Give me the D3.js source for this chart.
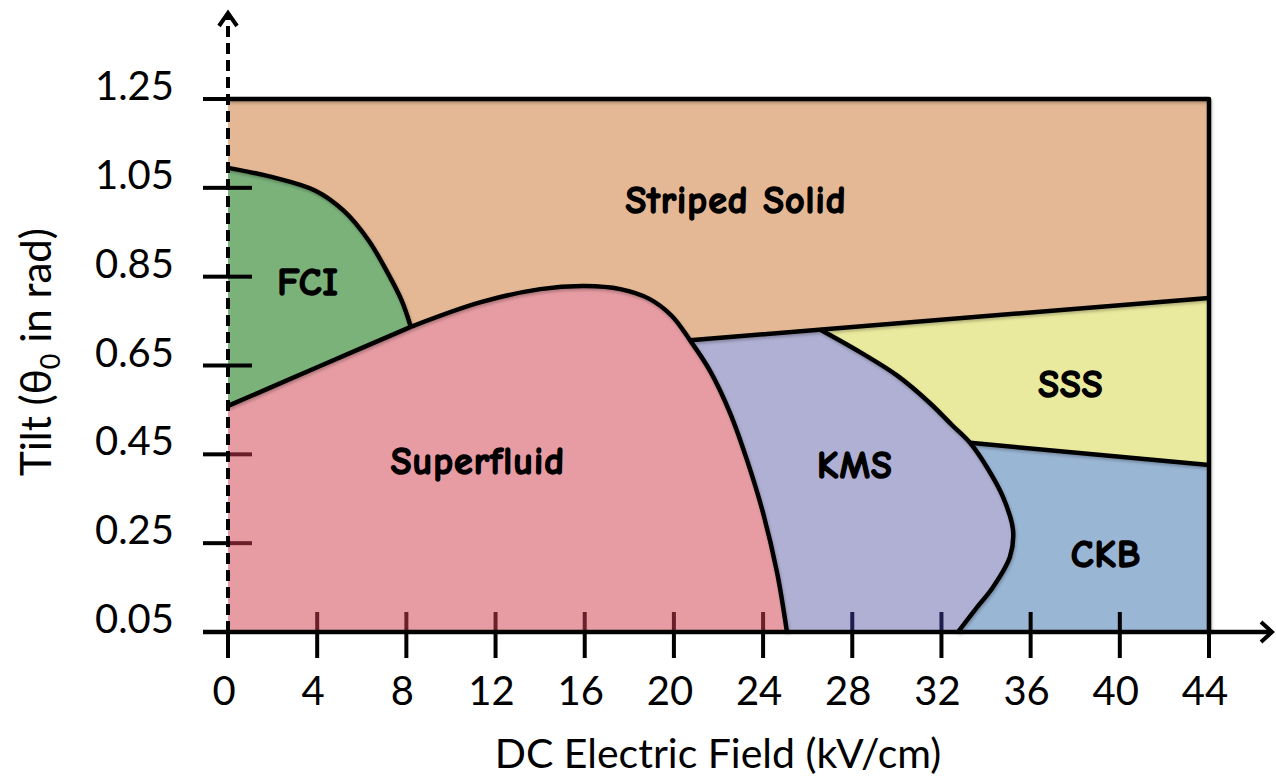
<!DOCTYPE html>
<html>
<head>
<meta charset="utf-8">
<script src="https://cdn.jsdelivr.net/npm/d3@7"></script>
<style>
  html, body { margin: 0; padding: 0; background: #ffffff; }
  svg { display: block; }
</style>
</head>
<body>
<svg id="chart" width="1276" height="779"></svg>
<script>
// Axis ticks
const xTicks = [0, 4, 8, 12, 16, 20, 24, 28, 32, 36, 40, 44];
const yTicks = [0.05, 0.25, 0.45, 0.65, 0.85, 1.05, 1.25];
const xDomain = [0, 44];
const yDomain = [0.05, 1.25];

// Phase boundaries (field in kV/cm, tilt in rad)
const fciTop = [[0, 1.095], [2, 1.074], [3.9, 1.044], [5.2, 0.998], [6.3, 0.932], [7.2, 0.855], [7.8, 0.795], [8.2, 0.737]];
const fciSf = [[0, 0.559], [4, 0.646], [8.2, 0.737]];
const sfOuter = [[8.2, 0.737], [11.3, 0.792], [14.0, 0.822], [16.0, 0.829], [17.6, 0.822], [18.9, 0.800], [19.9, 0.762],
                 [20.72, 0.707], [21.62, 0.638], [22.52, 0.543], [23.28, 0.437], [24.0, 0.318], [24.63, 0.183], [25.07, 0.05]];
const ssLine = [[20.72, 0.707], [44, 0.802]];
const kmsOuter = [[26.55, 0.731], [28.35, 0.680], [30.05, 0.626], [31.49, 0.565], [32.47, 0.516], [33.28, 0.476],
                  [34.04, 0.421], [34.76, 0.354], [35.21, 0.280], [35.07, 0.219], [34.31, 0.151], [33.60, 0.106], [32.74, 0.05]];
const sssCkb = [[33.28, 0.476], [44, 0.426]];

// Phase names and where their labels sit
const phases = ["Striped Solid", "FCI", "Superfluid", "KMS", "SSS", "CKB"];
const phaseColors = ["#e4b894", "#7bb27a", "#e79ca3", "#b0b0d4", "#eaea9e", "#9ab6d5"];
const labelAt = [[22.79, 1.020], [3.59, 0.836], [11.21, 0.433], [28.12, 0.424], [37.81, 0.606], [39.38, 0.223]];

const svg = d3.select("#chart");
const x = d3.scaleLinear().domain(xDomain).range([228, 1209]);
const y = d3.scaleLinear().domain(yDomain).range([632, 99]);

const curve = d3.line().x(d => x(d[0])).y(d => y(d[1])).curve(d3.curveCatmullRom.alpha(0.5));
const poly = d3.line().x(d => x(d[0])).y(d => y(d[1]));
const color = name => phaseColors[phases.indexOf(name)];

// joins curve pieces into a single closed outline
function outline(pieces) {
  let d = "";
  pieces.forEach((p, i) => {
    const s = (p.smooth ? curve : poly)(p.pts);
    d += i === 0 ? s : s.replace(/^M/, "L");
  });
  return d + "Z";
}
const ssAt = fx => ssLine[0][1] + (fx - ssLine[0][0]) * (ssLine[1][1] - ssLine[0][1]) / (ssLine[1][0] - ssLine[0][0]);

const defs = svg.append("defs");
defs.append("filter").attr("id", "soft").attr("x", "-5%").attr("y", "-5%").attr("width", "110%").attr("height", "110%")
  .append("feDropShadow").attr("dx", 1).attr("dy", 2).attr("stdDeviation", 1.5).attr("flood-color", "#000").attr("flood-opacity", 0.25);

const regions = svg.append("g");

// Striped solid: whole plot area
regions.append("rect")
  .attr("x", x(xDomain[0])).attr("y", y(yDomain[1]))
  .attr("width", x(xDomain[1]) - x(xDomain[0])).attr("height", y(yDomain[0]) - y(yDomain[1]))
  .attr("fill", color("Striped Solid"));

// KMS: everything under the lower striped boundary, right of the superfluid
regions.append("path")
  .attr("d", outline([{ pts: [[18, ssAt(18)], ssLine[1], [44, yDomain[0]], [18, yDomain[0]]] }]))
  .attr("fill", color("KMS"));

// SSS and CKB sit right of the KMS boundary
const rightOutline = outline([
  { pts: kmsOuter, smooth: true },
  { pts: [[44, yDomain[0]], ssLine[1], kmsOuter[0]] }
]);
defs.append("clipPath").attr("id", "rightSide").append("path").attr("d", rightOutline);
const right = regions.append("g").attr("clip-path", "url(#rightSide)");
right.append("path").attr("d", rightOutline).attr("fill", color("SSS"));
right.append("path")
  .attr("d", outline([{ pts: [sssCkb[0], sssCkb[1], [44, yDomain[0]], [26, yDomain[0]], [26, sssCkb[0][1]]] }]))
  .attr("fill", color("CKB"));

// Superfluid
regions.append("path")
  .attr("d", outline([
    { pts: [[0, yDomain[0]], fciSf[0]] },
    { pts: fciSf, smooth: true },
    { pts: sfOuter, smooth: true }
  ]))
  .attr("fill", color("Superfluid"));

// FCI
regions.append("path")
  .attr("d", outline([
    { pts: [fciSf[0], fciTop[0]] },
    { pts: fciTop, smooth: true },
    { pts: fciSf.slice().reverse(), smooth: true }
  ]))
  .attr("fill", color("FCI"));

// Interior tick stubs, tinted by the phase they sit in
const tickTint = { sf: "#6b1f2b", kms: "#1e1e4e" };
const ticksIn = svg.append("g").attr("stroke-width", 4);
xTicks.filter(t => t > 0 && t < 44).forEach(t => {
  const c = t < sfOuter[sfOuter.length - 1][0] ? tickTint.sf : (t < kmsOuter[kmsOuter.length - 1][0] ? tickTint.kms : "#000");
  ticksIn.append("line").attr("x1", x(t)).attr("x2", x(t)).attr("y1", y(yDomain[0]) - 20).attr("y2", y(yDomain[0])).attr("stroke", c);
});
yTicks.filter(t => t > yDomain[0] && t < yDomain[1]).forEach(t => {
  const c = t < fciSf[0][1] ? tickTint.sf : "#000";
  ticksIn.append("line").attr("x1", x(0)).attr("x2", x(0) + 24).attr("y1", y(t)).attr("y2", y(t)).attr("stroke", c);
});

// Phase boundaries
const lines = svg.append("g").attr("fill", "none").attr("stroke", "#000").attr("stroke-width", 4.5)
  .attr("stroke-linejoin", "round").attr("filter", "url(#soft)");
[fciTop, fciSf, sfOuter, kmsOuter].forEach(p => lines.append("path").attr("d", curve(p)));
[ssLine, sssCkb].forEach(p => lines.append("path").attr("d", poly(p)));
// top and right frame
lines.append("path").attr("d", poly([[0, yDomain[1]], [44, yDomain[1]], [44, yDomain[0]]]));

// Axes
const axes = svg.append("g").attr("stroke", "#000").attr("fill", "none");
// x axis with arrow
axes.append("line").attr("x1", 203).attr("x2", 1272).attr("y1", y(yDomain[0])).attr("y2", y(yDomain[0])).attr("stroke-width", 4.5);
axes.append("path").attr("d", `M1261,${y(yDomain[0]) - 10}L1272,${y(yDomain[0])}L1261,${y(yDomain[0]) + 10}`).attr("stroke-width", 4);
// dashed y axis with arrow
axes.append("line").attr("x1", x(0)).attr("x2", x(0)).attr("y1", y(yDomain[0])).attr("y2", 14)
  .attr("stroke-width", 4).attr("stroke-dasharray", "11,6");
axes.append("path").attr("d", `M${x(0) - 9},26L${x(0)},13L${x(0) + 9},26`).attr("stroke-width", 4);

// Outer tick halves
xTicks.forEach(t => axes.append("line").attr("x1", x(t)).attr("x2", x(t))
  .attr("y1", y(yDomain[0])).attr("y2", y(yDomain[0]) + 26).attr("stroke-width", 4));
xTicks.filter(t => t === 44).forEach(t => axes.append("line").attr("x1", x(t)).attr("x2", x(t))
  .attr("y1", y(yDomain[0]) - 20).attr("y2", y(yDomain[0])).attr("stroke-width", 4));
yTicks.forEach(t => axes.append("line").attr("x1", x(0) - 25).attr("x2", x(0)).attr("y1", y(t)).attr("y2", y(t)).attr("stroke-width", 4));
yTicks.filter(t => t === yDomain[1] || t === yDomain[0]).forEach(t => axes.append("line")
  .attr("x1", x(0)).attr("x2", x(0) + 24).attr("y1", y(t)).attr("y2", y(t)).attr("stroke-width", 4));

// Tick labels
const tickFont = "Lato, 'Open Sans', sans-serif";
svg.append("g").selectAll("text").data(xTicks).join("text")
  .attr("x", d => x(d) - 4).attr("y", 705)
  .attr("text-anchor", "middle").attr("font-family", tickFont).attr("font-size", 40).attr("fill", "#000")
  .text(d => d);
svg.append("g").selectAll("text").data(yTicks).join("text")
  .attr("x", 174).attr("y", d => y(d) + 1)
  .attr("text-anchor", "end").attr("font-family", tickFont).attr("font-size", 40).attr("fill", "#000")
  .text(d => d.toFixed(2));

// Axis titles
svg.append("text").attr("x", 718).attr("y", 768).attr("text-anchor", "middle")
  .attr("font-family", tickFont).attr("font-size", 41).attr("fill", "#000")
  .text("DC Electric Field (kV/cm)");
const yt = svg.append("text").attr("transform", "translate(51,352) rotate(-90)").attr("text-anchor", "middle")
  .attr("font-family", tickFont).attr("font-size", 42).attr("fill", "#000");
yt.append("tspan").text("Tilt (θ");
yt.append("tspan").attr("font-size", 27).attr("dy", 9).text("0");
yt.append("tspan").attr("dy", -9).text(" in rad)");

// Phase labels
svg.append("g").selectAll("text").data(phases).join("text")
  .attr("x", (d, i) => x(labelAt[i][0])).attr("y", (d, i) => y(labelAt[i][1]))
  .attr("text-anchor", "middle").attr("dominant-baseline", "central")
  .attr("font-family", "'Comic Sans MS', 'Comic Neue', 'DejaVu Sans', sans-serif").attr("font-weight", 700)
  .attr("font-size", 38).attr("letter-spacing", 1).attr("fill", "#000")
  .attr("stroke", "#000").attr("stroke-width", 1.4).attr("stroke-linejoin", "round")
  .text(d => d);
</script>
</body>
</html>
